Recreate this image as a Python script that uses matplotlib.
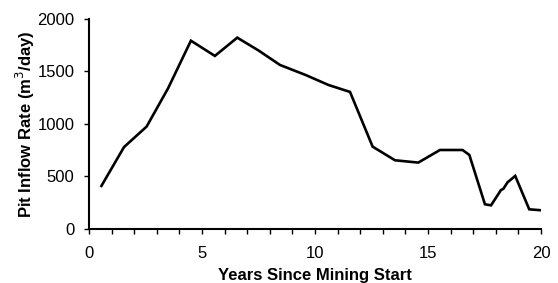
import matplotlib
matplotlib.use("Agg")
import matplotlib.pyplot as plt
from matplotlib.ticker import MultipleLocator

years = [0.55, 1.55, 2.55, 3.5, 4.51, 5.57, 6.56, 7.5, 8.45, 9.6, 10.6, 11.55,
         12.55, 13.54, 14.57, 15.53, 16.53, 16.83, 17.52, 17.79, 18.23, 18.33,
         18.52, 18.86, 19.48, 20.0]
inflow = [410, 780, 975, 1340, 1793, 1648, 1822, 1700, 1562, 1465, 1371, 1305,
          784, 654, 632, 752, 752, 705, 235, 225, 371, 381, 444, 505, 187, 178]

plt.rcParams['font.family'] = ['Liberation Sans', 'DejaVu Sans']

fig = plt.figure(figsize=(5.58, 2.83), dpi=100)
ax = fig.add_axes([0.1595, 0.191, 0.81, 0.742])
ax.plot(years, inflow, color='black', lw=1.9, solid_joinstyle='miter')
ax.set_xlim(0, 20)
ax.set_ylim(0, 2000)
ax.xaxis.set_major_locator(MultipleLocator(5))
ax.xaxis.set_minor_locator(MultipleLocator(1))
ax.yaxis.set_major_locator(MultipleLocator(500))
for s in ['top', 'right']:
    ax.spines[s].set_visible(False)
for s in ['left', 'bottom']:
    ax.spines[s].set_linewidth(1.5)
ax.tick_params(axis='x', which='major', direction='out', length=3.5, width=1, labelsize=12, pad=8.5)
ax.tick_params(axis='y', which='major', direction='out', length=3.5, width=1, labelsize=12, pad=7)
ax.tick_params(axis='x', which='minor', direction='out', length=3.5, width=1)
ax.set_xlabel('Years Since Mining Start', fontsize=12, fontweight='bold', labelpad=5)
ax.set_ylabel('Pit Inflow Rate (m$^3$/day)', fontsize=12, fontweight='bold', labelpad=0)
fig.savefig('out.png', dpi=100)
